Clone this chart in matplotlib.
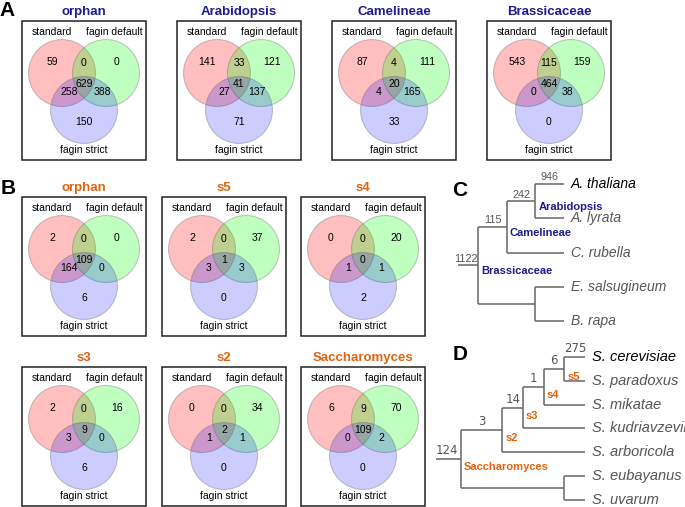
import matplotlib
matplotlib.use("Agg")
import matplotlib.pyplot as plt
from matplotlib.patches import Circle, Rectangle

plt.rcParams['font.family'] = ['Liberation Sans', 'DejaVu Sans']

# Venn counts, order: standard only, std&default, default only, all three,
# std&strict, default&strict, strict only
a_titles = ["orphan", "Arabidopsis", "Camelineae", "Brassicaceae"]
a_counts = [
    [59, 0, 0, 629, 258, 388, 150],
    [141, 33, 121, 41, 27, 137, 71],
    [87, 4, 111, 20, 4, 165, 33],
    [543, 115, 159, 464, 0, 38, 0],
]
b_titles = ["orphan", "s5", "s4", "s3", "s2", "Saccharomyces"]
b_counts = [
    [2, 0, 0, 109, 164, 0, 6],
    [2, 0, 37, 1, 3, 3, 0],
    [0, 0, 20, 0, 1, 1, 2],
    [2, 0, 16, 9, 3, 0, 6],
    [0, 0, 34, 2, 1, 1, 0],
    [6, 9, 70, 109, 0, 2, 0],
]
set_names = ["standard", "fagin default", "fagin strict"]

# trees: leaves top to bottom, internal nodes (name, depth, children, branch count, clade label)
c_leaves = ["A. thaliana", "A. lyrata", "C. rubella", "E. salsugineum", "B. rapa"]
c_leaf_counts = {0: "946"}
c_nodes = [
    ("arab", 3, [0, 1], "242", "Arabidopsis"),
    ("came", 2, ["arab", 2], "115", "Camelineae"),
    ("low", 3, [3, 4], "", ""),
    ("brass", 1, ["came", "low"], "1122", "Brassicaceae"),
]
d_leaves = ["S. cerevisiae", "S. paradoxus", "S. mikatae", "S. kudriavzevii",
            "S. arboricola", "S. eubayanus", "S. uvarum"]
d_leaf_counts = {0: "275"}
d_nodes = [
    ("s5", 5, [0, 1], "6", "s5"),
    ("s4", 4, ["s5", 2], "1", "s4"),
    ("s3", 3, ["s4", 3], "14", "s3"),
    ("s2", 2, ["s3", 4], "3", "s2"),
    ("eu", 5, [5, 6], "", ""),
    ("sacc", 0, ["s2", "eu"], "124", "Saccharomyces"),
]

blue = "#1c1c8c"
orange = "#e0620e"

fig = plt.figure(figsize=(6.85, 5.07), dpi=100)
ax = fig.add_axes([0, 0, 1, 1])
ax.set_xlim(0, 685)
ax.set_ylim(507, 0)
ax.axis('off')


def venn(bx, by, title, counts, tcolor):
    w, h = 124, 139
    ax.add_patch(Rectangle((bx, by), w, h, fill=False, ec="#222222", lw=1.1))
    ax.text(bx + w / 2, by - 9, title, ha='center', va='center', fontsize=9.5,
            fontweight='bold', color=tcolor)
    for (cx, cy), col, a in [((40, 52), "#ff0000", 0.25), ((84, 52), "#00ff00", 0.25),
                             ((62, 89), "#0000ff", 0.2)]:
        ax.add_patch(Circle((bx + cx, by + cy), 33.5, fc=col, alpha=a, ec='none'))
        ax.add_patch(Circle((bx + cx, by + cy), 33.5, fill=False, ec=(0.4, 0.4, 0.4, 0.35), lw=0.8))
    spots = [(30, 41), (62, 42), (95, 41), (62, 63), (47, 71), (80, 71), (62, 101)]
    for (px, py), n in zip(spots, counts):
        ax.text(bx + px, by + py, str(n), ha='center', va='center', fontsize=7.5)
    for (px, py), s in zip([(30, 11), (92, 11), (62, 129)], set_names):
        ax.text(bx + px, by + py, s, ha='center', va='center', fontsize=7.5)


for x, t, c in zip([22, 177, 332, 487], a_titles, a_counts):
    venn(x, 21, t, c, blue)
b_pos = [(22, 197), (162, 197), (301, 197), (22, 367), (162, 367), (301, 367)]
for (x, y), t, c in zip(b_pos, b_titles, b_counts):
    venn(x, y, t, c, orange)


def tree(leaves, leaf_counts, nodes, x0, dx, y0, dy, root_start, ccolor,
         lab_off, sp_size, num_size, num_font):
    lc = "#666666"
    leaf_depth = max(n[1] for n in nodes) + 1
    pos = {}
    for i, name in enumerate(leaves):
        pos[i] = (x0 + leaf_depth * dx, y0 + i * dy)
        ax.text(pos[i][0] + 7, pos[i][1], name, ha='left', va='center', fontsize=sp_size,
                style='italic', color='black' if i == 0 else '#555555')
    for name, depth, kids, cnt, clade in nodes:
        nx = x0 + depth * dx
        ys = [pos[k][1] for k in kids]
        ny = sum(ys) / 2
        pos[name] = (nx, ny)
        ax.plot([nx, nx], [min(ys), max(ys)], color=lc, lw=1.1, solid_capstyle='butt')
        for k in kids:
            kx, ky = pos[k]
            ax.plot([nx, kx], [ky, ky], color=lc, lw=1.1, solid_capstyle='butt')
            lab = leaf_counts.get(k, "") if isinstance(k, int) else dict(
                (n[0], n[3]) for n in nodes)[k]
            if lab:
                ax.text((nx + kx) / 2, ky - 1.5, lab, ha='center', va='bottom',
                        fontsize=num_size, color='#555555', family=num_font)
        if clade:
            ax.text(nx + 3, ny + lab_off, clade, ha='left', va='top', fontsize=8,
                    fontweight='bold', color=ccolor)
    rname, rdepth = nodes[-1][0], nodes[-1][1]
    rx, ry = pos[rname]
    ax.plot([root_start, rx], [ry, ry], color=lc, lw=1.1, solid_capstyle='butt')
    ax.text((root_start + rx) / 2 - 2, ry - 1.5, nodes[-1][3], ha='center', va='bottom',
            fontsize=num_size, color='#555555', family=num_font)


tree(c_leaves, c_leaf_counts, c_nodes, 450, 28.5, 184, 34.3, 458, blue, 1, 10,
     7.8, ['Liberation Sans'])
tree(d_leaves, d_leaf_counts, d_nodes, 461, 20.7, 357, 23.8, 436, orange, 3, 10.5,
     8.5, ['DejaVu Sans'])

for s, x, y in [("A", 7, 11), ("B", 8, 189), ("C", 460, 190), ("D", 460, 354)]:
    ax.text(x, y, s, ha='center', va='center', fontsize=15, fontweight='bold')

fig.savefig("out.png", dpi=100)
